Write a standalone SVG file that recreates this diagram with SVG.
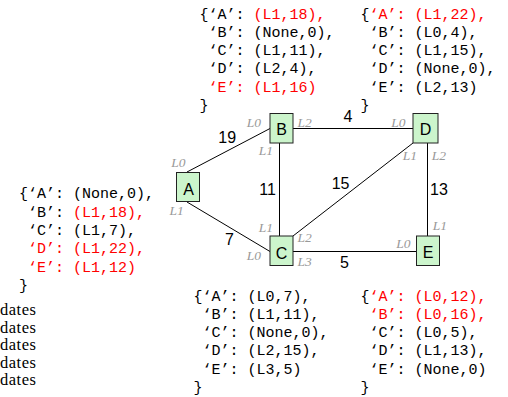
<svg xmlns="http://www.w3.org/2000/svg" width="508" height="397" viewBox="0 0 508 397">
  <style>
    .node rect { fill: #ccf5cc; stroke: #222; stroke-width: 1; }
    .nl { font-family: "Liberation Sans", Arial, sans-serif; font-size: 16px; fill: #000; text-anchor: middle; }
    .edge { stroke: #000; stroke-width: 1; fill: none; }
    .w { font-family: "Liberation Sans", Arial, sans-serif; font-size: 16px; fill: #000; }
    .port { font-family: "Liberation Serif", "Times New Roman", serif; font-style: italic; font-size: 13.5px; fill: #999; }
    .code { font-family: "Liberation Mono", "Courier New", monospace; font-size: 15px; fill: #000; white-space: pre; }
    .hot { fill: #f00; }
    .log { font-family: "Liberation Serif", "Times New Roman", serif; font-size: 16.5px; fill: #000; }
  </style>

  <!-- connectors -->
  <g id="connectors">
    <line class="edge" x1="187" y1="172" x2="270" y2="128.5"/>
    <line class="edge" x1="187" y1="202" x2="270" y2="251.5"/>
    <line class="edge" x1="279.5" y1="143" x2="279.5" y2="236"/>
    <line class="edge" x1="293" y1="128.5" x2="413" y2="128.5"/>
    <line class="edge" x1="293" y1="236" x2="413" y2="143"/>
    <line class="edge" x1="427.5" y1="143" x2="427.5" y2="236"/>
    <line class="edge" x1="293" y1="251.5" x2="416" y2="251.5"/>
    <text class="w" x="218.3" y="143">19</text>
    <text class="w" x="259.3" y="194.5">11</text>
    <text class="w" x="225" y="245">7</text>
    <text class="w" x="343.5" y="122">4</text>
    <text class="w" x="331.7" y="189.3">15</text>
    <text class="w" x="430" y="194.5">13</text>
    <text class="w" x="340" y="268.3">5</text>
  </g>

  <!-- nodes -->
  <g id="node-A" class="node">
    <rect x="176.5" y="172.5" width="23" height="29"/>
    <text class="nl" x="188.5" y="195">A</text>
    <text class="port" x="171.2" y="166.7">L0</text>
    <text class="port" x="169.5" y="215">L1</text>
  </g>
  <g id="node-B" class="node">
    <rect x="270" y="113.5" width="23" height="29.5"/>
    <text class="nl" x="281.5" y="135">B</text>
    <text class="port" x="246.8" y="126.7">L0</text>
    <text class="port" x="258.8" y="155">L1</text>
    <text class="port" x="297.5" y="126.7">L2</text>
  </g>
  <g id="node-C" class="node">
    <rect x="270" y="236" width="23" height="29.5"/>
    <text class="nl" x="281.5" y="258.5">C</text>
    <text class="port" x="246.8" y="260">L0</text>
    <text class="port" x="258.8" y="231.7">L1</text>
    <text class="port" x="297.5" y="241.7">L2</text>
    <text class="port" x="297.5" y="266">L3</text>
  </g>
  <g id="node-D" class="node">
    <rect x="413" y="113.5" width="25" height="29.5"/>
    <text class="nl" x="425.5" y="135">D</text>
    <text class="port" x="391.2" y="126.7">L0</text>
    <text class="port" x="402.8" y="160">L1</text>
    <text class="port" x="431.8" y="160">L2</text>
  </g>
  <g id="node-E" class="node">
    <rect x="416.5" y="236" width="23" height="29.5"/>
    <text class="nl" x="428" y="257.5">E</text>
    <text class="port" x="396.2" y="248">L0</text>
    <text class="port" x="432.8" y="230">L1</text>
  </g>

  <!-- routing tables -->
  <g id="table-B">
    <text class="code" x="199.5" y="18.5">{‘A’: <tspan class="hot">(L1,18),</tspan></text>
    <text class="code" x="208.5" y="36.8">‘B’: (None,0),</text>
    <text class="code" x="208.5" y="55.1">‘C’: (L1,11),</text>
    <text class="code" x="208.5" y="73.4">‘D’: (L2,4),</text>
    <text class="code hot" x="208.5" y="91.7">‘E’: (L1,16)</text>
    <text class="code" x="199.5" y="110">}</text>
  </g>
  <g id="table-D">
    <text class="code" x="360.5" y="18.5">{<tspan class="hot">‘A’: (L1,22),</tspan></text>
    <text class="code" x="369.5" y="36.8">‘B’: (L0,4),</text>
    <text class="code" x="369.5" y="55.1">‘C’: (L1,15),</text>
    <text class="code" x="369.5" y="73.4">‘D’: (None,0),</text>
    <text class="code" x="369.5" y="91.7">‘E’: (L2,13)</text>
    <text class="code" x="360.5" y="110">}</text>
  </g>
  <g id="table-A">
    <text class="code" x="19" y="198.3">{‘A’: (None,0),</text>
    <text class="code" x="28" y="216.6">‘B’: <tspan class="hot">(L1,18),</tspan></text>
    <text class="code" x="28" y="234.9">‘C’: (L1,7),</text>
    <text class="code hot" x="28" y="253.2">‘D’: (L1,22),</text>
    <text class="code hot" x="28" y="271.5">‘E’: (L1,12)</text>
    <text class="code" x="19" y="289.8">}</text>
  </g>
  <g id="table-C">
    <text class="code" x="193.5" y="300.5">{‘A’: (L0,7),</text>
    <text class="code" x="202.5" y="318.8">‘B’: (L1,11),</text>
    <text class="code" x="202.5" y="337.1">‘C’: (None,0),</text>
    <text class="code" x="202.5" y="355.4">‘D’: (L2,15),</text>
    <text class="code" x="202.5" y="373.7">‘E’: (L3,5)</text>
    <text class="code" x="193.5" y="392">}</text>
  </g>
  <g id="table-E">
    <text class="code" x="360.5" y="300.5">{<tspan class="hot">‘A’: (L0,12),</tspan></text>
    <text class="code hot" x="369.5" y="318.8">‘B’: (L0,16),</text>
    <text class="code" x="369.5" y="337.1">‘C’: (L0,5),</text>
    <text class="code" x="369.5" y="355.4">‘D’: (L1,13),</text>
    <text class="code" x="369.5" y="373.7">‘E’: (None,0)</text>
    <text class="code" x="360.5" y="392">}</text>
  </g>

  <!-- update log -->
  <g id="log">
    <text class="log" x="0" y="315" textLength="36">dates</text>
    <text class="log" x="0" y="332.5" textLength="36">dates</text>
    <text class="log" x="0" y="350" textLength="36">dates</text>
    <text class="log" x="0" y="367.5" textLength="36">dates</text>
    <text class="log" x="0" y="385" textLength="36">dates</text>
  </g>
</svg>
